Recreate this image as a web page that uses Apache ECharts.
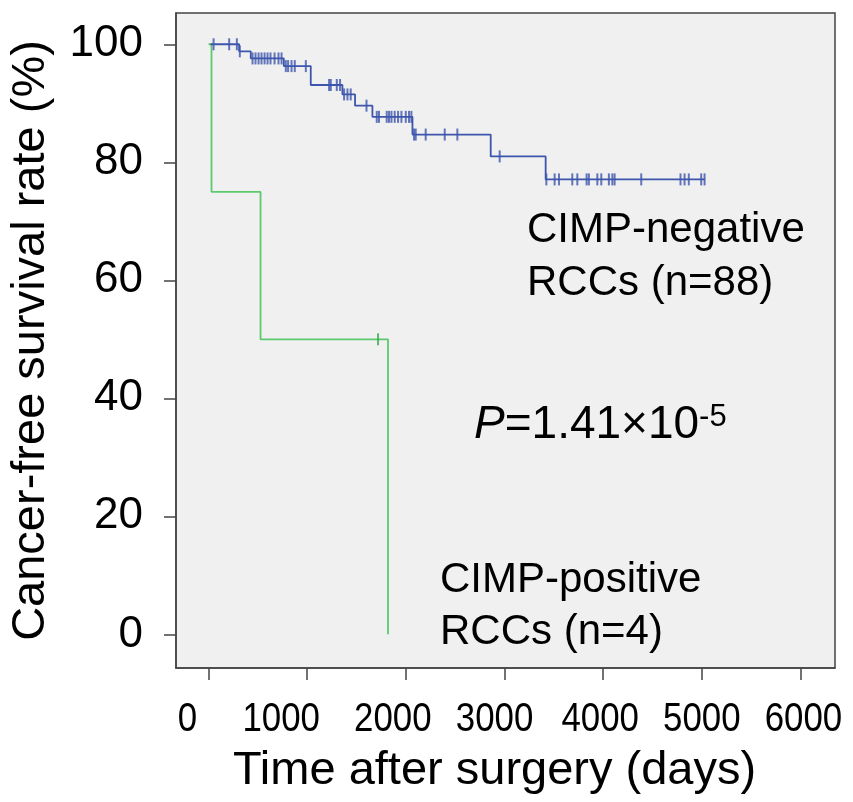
<!DOCTYPE html>
<html><head><meta charset="utf-8">
<script src="https://cdn.jsdelivr.net/npm/echarts@6/dist/echarts.min.js"></script>
<style>html,body{margin:0;padding:0;background:#fff}#c{width:853px;height:802px}</style>
</head><body><div id="c"></div>
<script>
const xTicks = [0, 1000, 2000, 3000, 4000, 5000, 6000];
const yTicks = [0, 20, 40, 60, 80, 100];

// CIMP-negative (n=88): event times (days) and survival (%) after each step
const negTimes = [20, 310, 428, 763, 1036, 1357, 1485, 1661, 2067, 2860, 3417, 5030];
const negSurv  = [100, 98.8, 97.6, 96.3, 93.1, 91.5, 89.6, 87.7, 84.7, 81.0, 77.1, 77.1];
const negCensorTimes = [51, 209, 287, 317,
  446, 476, 507, 537, 568, 598, 628, 669, 709, 740,
  783, 806, 841, 874, 986,
  1222, 1239, 1300, 1333,
  1374, 1408, 1441,
  1601,
  1705, 1728, 1806, 1829, 1854, 1887, 1921, 1955, 1999, 2032, 2056,
  2083, 2100, 2201, 2394, 2522,
  2951,
  3424, 3508, 3552, 3687, 3738, 3832, 3855, 3941, 3981, 4058, 4093, 4116, 4386, 4784, 4825, 4868, 4994, 5028];

// CIMP-positive (n=4)
const posTimes = [0, 30, 527, 1819];
const posSurv  = [100, 75, 50, 0];
const posCensorTimes = [1718];

const BLUE = '#3d55ad';
const GREEN = '#5cc96c';
const FONT = '"Liberation Sans", Arial, sans-serif';
// small horizontal nudges (px) of the x tick labels, as in the original figure
const xLabelNudge = [-21, -26, -13, -10, -3, 0, 3];

function stepValue(times, surv, t) {
  let v = surv[0];
  for (let i = 0; i < times.length; i++) { if (times[i] <= t) v = surv[i]; }
  return v;
}
const negLine = negTimes.map((t, i) => [t, negSurv[i]]);
const posLine = posTimes.map((t, i) => [t, posSurv[i]]);
const negCens = negCensorTimes.map(t => [t, stepValue(negTimes, negSurv, t)]);
const posCens = posCensorTimes.map(t => [t, stepValue(posTimes, posSurv, t)]);

const chart = echarts.init(document.getElementById('c'), null, {renderer: 'canvas'});
const txt = (x, y, text, size) => ({type: 'text', x: x, y: y,
  style: {text: text, fontSize: size, fontFamily: FONT, fill: '#000', align: 'left', verticalAlign: 'middle'}});

chart.setOption({
  animation: false,
  backgroundColor: '#ffffff',
  grid: {left: 175, right: 18, top: 13, bottom: 134, show: true,
    backgroundColor: '#f0f0f0', borderColor: '#444', borderWidth: 1.5},
  xAxis: {
    type: 'value', min: -330, max: 6350,
    name: 'Time after surgery (days)', nameLocation: 'middle', nameGap: 80,
    nameTextStyle: {fontSize: 47, fontFamily: FONT, color: '#000', padding: [0, 22, 0, 0]},
    axisLine: {show: true, onZero: false, lineStyle: {color: '#444', width: 1.5}},
    axisTick: {show: true, customValues: xTicks, length: 12, lineStyle: {color: '#444', width: 1.5}},
    axisLabel: {show: false},
    splitLine: {show: false}
  },
  yAxis: {
    type: 'value', min: -5.7, max: 105.3,
    name: 'Cancer-free survival rate (%)', nameLocation: 'middle', nameGap: 121,
    nameTextStyle: {fontSize: 47, fontFamily: FONT, color: '#000'},
    axisLine: {show: true, onZero: false, lineStyle: {color: '#444', width: 1.5}},
    axisTick: {show: true, customValues: yTicks, length: 12, lineStyle: {color: '#444', width: 1.5}},
    axisLabel: {customValues: yTicks, fontSize: 44, fontFamily: FONT, color: '#000', margin: 33},
    splitLine: {show: false}
  },
  series: [
    {type: 'line', data: negLine, step: 'end', showSymbol: false, lineStyle: {color: BLUE, width: 1.8}, z: 3},
    {type: 'line', data: posLine, step: 'end', showSymbol: false, lineStyle: {color: GREEN, width: 1.8}, z: 2},
    {type: 'scatter', data: negCens, symbol: 'rect', symbolSize: [2, 12], itemStyle: {color: BLUE}, z: 4},
    {type: 'scatter', data: posCens, symbol: 'rect', symbolSize: [2, 12], itemStyle: {color: '#3aa64a'}, z: 4}
  ]
});

// x tick labels: condensed text placed at the axis' own pixel positions
const xLabelGraphics = xTicks.map((v, i) => ({
  type: 'text', x: chart.convertToPixel({xAxisIndex: 0}, v) + xLabelNudge[i], y: 720, scaleX: 0.85,
  style: {text: String(v), fontSize: 41, fontFamily: FONT, fill: '#000', align: 'center', verticalAlign: 'middle'}
}));

chart.setOption({
  graphic: xLabelGraphics.concat([
    txt(527, 230, 'CIMP-negative', 42),
    txt(527, 283, 'RCCs (n=88)', 42),
    {type: 'text', x: 474, y: 425, style: {text: '{i|P}=1.41×10{s|-5}', fontSize: 46, fontFamily: FONT, fill: '#000', align: 'left', verticalAlign: 'middle',
      rich: {i: {fontStyle: 'italic', fontSize: 46, fontFamily: FONT}, s: {fontSize: 31, fontFamily: FONT, verticalAlign: 'top', padding: [0, 0, 16, 0]}}}},
    txt(440, 580, 'CIMP-positive', 42),
    txt(440, 632, 'RCCs (n=4)', 42)
  ])
});
</script></body></html>
